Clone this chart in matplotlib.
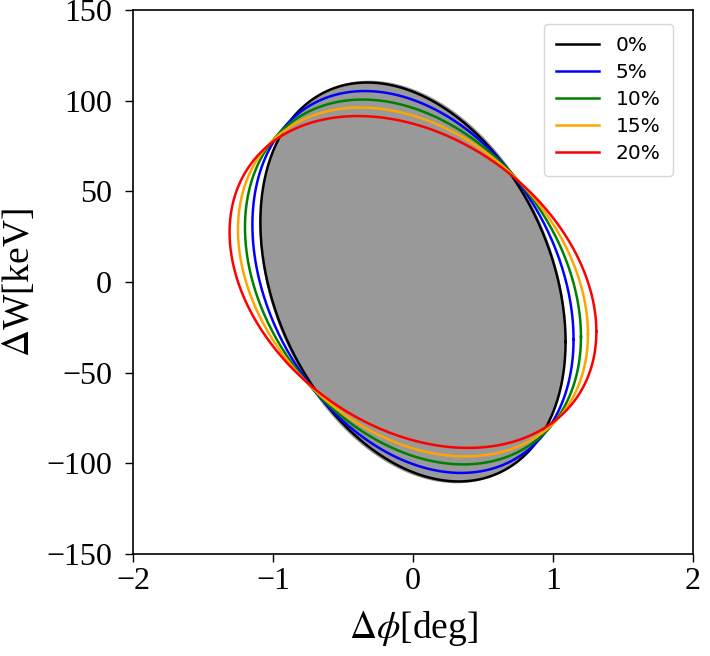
"""Longitudinal phase-space ellipses for increasing mismatch levels."""

import numpy as np
import matplotlib

matplotlib.use("Agg")
import matplotlib.pyplot as plt

# ellipse x = A cos t, y = B cos(t - psi) with cos(psi) = CORR
LABELS = ["0%", "5%", "10%", "15%", "20%"]
COLORS = ["black", "blue", "green", "orange", "red"]
HALF_PHI = [1.09, 1.147, 1.20, 1.25, 1.31]      # deg, max |dphi|
HALF_W = [110.0, 105.3, 100.6, 96.2, 91.5]      # keV, max |dW|
CORR = [-0.30, -0.30, -0.30, -0.30, -0.30]

# particle distribution envelope (grey fill)
GREY_PHI = 1.095
GREY_W = 111.0
GREY_CORR = -0.285


def ellipse(a, b, c, n=400):
    t = np.linspace(0, 2 * np.pi, n)
    psi = np.arccos(c)
    return a * np.cos(t), b * np.cos(t - psi)


def main() -> None:
    plt.rcParams["mathtext.fontset"] = "stix"
    serif = "Liberation Serif"

    fig = plt.figure(figsize=(7.1, 6.56), dpi=100)
    ax = fig.add_axes([0.1873, 0.1555, 0.7887, 0.8293])

    gx, gy = ellipse(GREY_PHI, GREY_W, GREY_CORR)
    ax.fill(gx, gy, color="#999999", lw=0, zorder=1)

    for lab, col, a, b, c in zip(LABELS, COLORS, HALF_PHI, HALF_W, CORR):
        x, y = ellipse(a, b, c)
        ax.plot(x, y, color=col, lw=1.8, label=lab, zorder=2)

    ax.set_xlim(-2, 2)
    ax.set_ylim(-150, 150)
    ax.set_xticks([-2, -1, 0, 1, 2])
    ax.set_yticks([-150, -100, -50, 0, 50, 100, 150])
    ax.tick_params(length=6, width=1.0, labelsize=23)
    ax.tick_params(axis="y", pad=9)
    for lbl in ax.get_xticklabels() + ax.get_yticklabels():
        lbl.set_fontfamily(serif)
    for sp in ax.spines.values():
        sp.set_linewidth(1.2)

    ax.set_xlabel(r"$\Delta\phi$[deg]", fontsize=27, family=serif, labelpad=9)
    ax.set_ylabel(r"$\Delta$W[keV]", fontsize=27, family=serif, labelpad=7)

    ax.legend(loc="upper right", fontsize=14.5, handlelength=2.1,
              borderpad=0.6, labelspacing=0.4, handletextpad=0.85,
              borderaxespad=0, bbox_to_anchor=(0.964, 0.974))

    fig.savefig("out.png", dpi=100)


if __name__ == "__main__":
    main()
